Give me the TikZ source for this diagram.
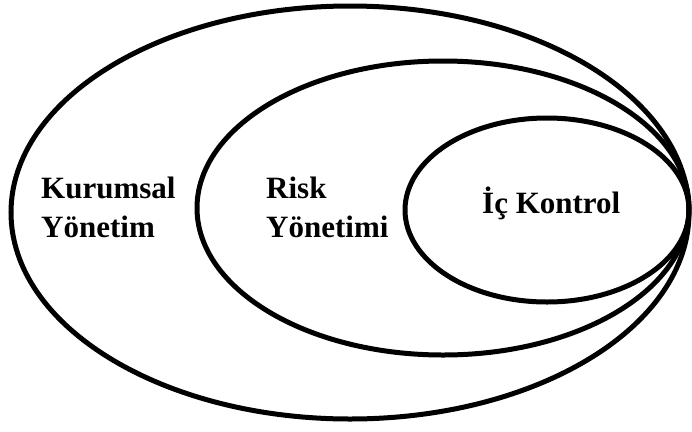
\documentclass[tikz,border=0pt]{standalone}
\usepackage{fontspec}
\setmainfont{Liberation Serif}
\begin{document}
\begin{tikzpicture}[x=1pt,y=-1pt,
  ring/.style={draw=black,line width=5pt},
  lbl/.style={inner sep=0pt,anchor=base west,align=left,
    font=\fontsize{31}{39}\selectfont\bfseries}]
\useasboundingbox (0,0) rectangle (692,431);
% nested circles of responsibility, all touching at the right
\draw[ring] (350,212.5) ellipse [x radius=339, y radius=206.5];
\draw[ring] (443,208) ellipse [x radius=246, y radius=147];
\draw[ring] (547,210) ellipse [x radius=142, y radius=92];
% labels (base anchor sits on the last line)
\node[lbl] (kurumsal) at (41,237) {Kurumsal\\Yönetim};
\node[lbl] (risk) at (266,237) {Risk\\Yönetimi};
\node[lbl] (ic) at (482,213) {İç Kontrol};
\end{tikzpicture}
\end{document}
